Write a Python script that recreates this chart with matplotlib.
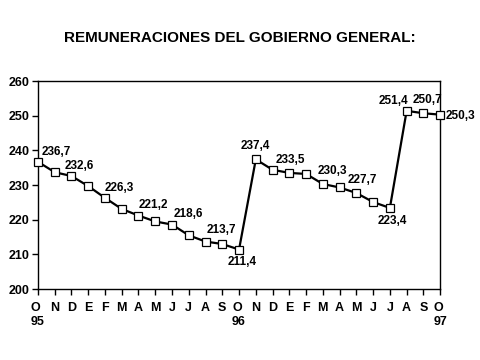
import matplotlib
matplotlib.use("Agg")
import matplotlib.pyplot as plt

# Remuneraciones, oct 95 - oct 97
meses = ["O", "N", "D", "E", "F", "M", "A", "M", "J", "J", "A", "S",
         "O", "N", "D", "E", "F", "M", "A", "M", "J", "J", "A", "S", "O"]
anios = {0: "95", 12: "96", 24: "97"}
valores = [236.7, 233.7, 232.6, 229.7, 226.3, 223.1, 221.2, 219.5, 218.6,
           215.5, 213.7, 213.0, 211.4, 237.4, 234.4, 233.5, 233.2, 230.3,
           229.3, 227.7, 225.1, 223.4, 251.4, 250.7, 250.3]

# indice -> (dx, dy, ha, va) para las etiquetas
etiquetas = {0: (3, 3, "left", "bottom"), 2: (-5, 3, "left", "bottom"),
             4: (0, 3, "left", "bottom"), 6: (0, 3, "left", "bottom"),
             8: (1, 3, "left", "bottom"), 10: (1, 4, "left", "bottom"),
             12: (2, -5, "center", "top"), 13: (0, 5, "center", "bottom"),
             15: (-10, 5, "left", "bottom"), 17: (-4, 5, "left", "bottom"),
             19: (-6, 5, "left", "bottom"), 21: (2, -5, "center", "top"),
             22: (1, 3, "right", "bottom"), 23: (3, 5, "center", "bottom"),
             24: (4, -1, "left", "center")}

plt.rcParams["font.family"] = ["Liberation Sans", "DejaVu Sans"]
plt.rcParams["font.weight"] = "bold"

fig = plt.figure(figsize=(4.8, 3.6), dpi=100)
ax = fig.add_axes([0.079, 0.197, 0.838, 0.578])

x = list(range(len(valores)))
ax.plot(x, valores, color="black", lw=1.6, marker="s", ms=5.5,
        mfc="white", mec="black", mew=0.9, clip_on=False, zorder=3)

for i, (dx, dy, ha, va) in etiquetas.items():
    txt = ("%.1f" % valores[i]).replace(".", ",")
    ax.annotate(txt, (i, valores[i]), xytext=(dx, dy), textcoords="offset points",
                ha=ha, va=va, fontsize=8.5, fontweight="bold")

ax.set_xlim(0, 24)
ax.set_ylim(200, 260)
ax.set_yticks(range(200, 261, 10))
ax.set_xticks(x)
ax.set_xticklabels([m + ("\n" + anios[i] if i in anios else "") for i, m in enumerate(meses)],
                   fontsize=9, fontweight="bold", linespacing=1.3)
for t in ax.get_xticklabels():
    t.set_verticalalignment("top")
    t.set_multialignment("left")
ax.tick_params(axis="both", direction="out", length=4, width=1, labelsize=9)
ax.tick_params(axis="x", pad=5)
ax.tick_params(axis="y", pad=2)
for s in ax.spines.values():
    s.set_linewidth(1)

fig.text(0.5, 0.895, "REMUNERACIONES DEL GOBIERNO GENERAL:", ha="center",
         va="center", fontsize=11, fontweight="bold")

fig.savefig("out.png", dpi=100)
